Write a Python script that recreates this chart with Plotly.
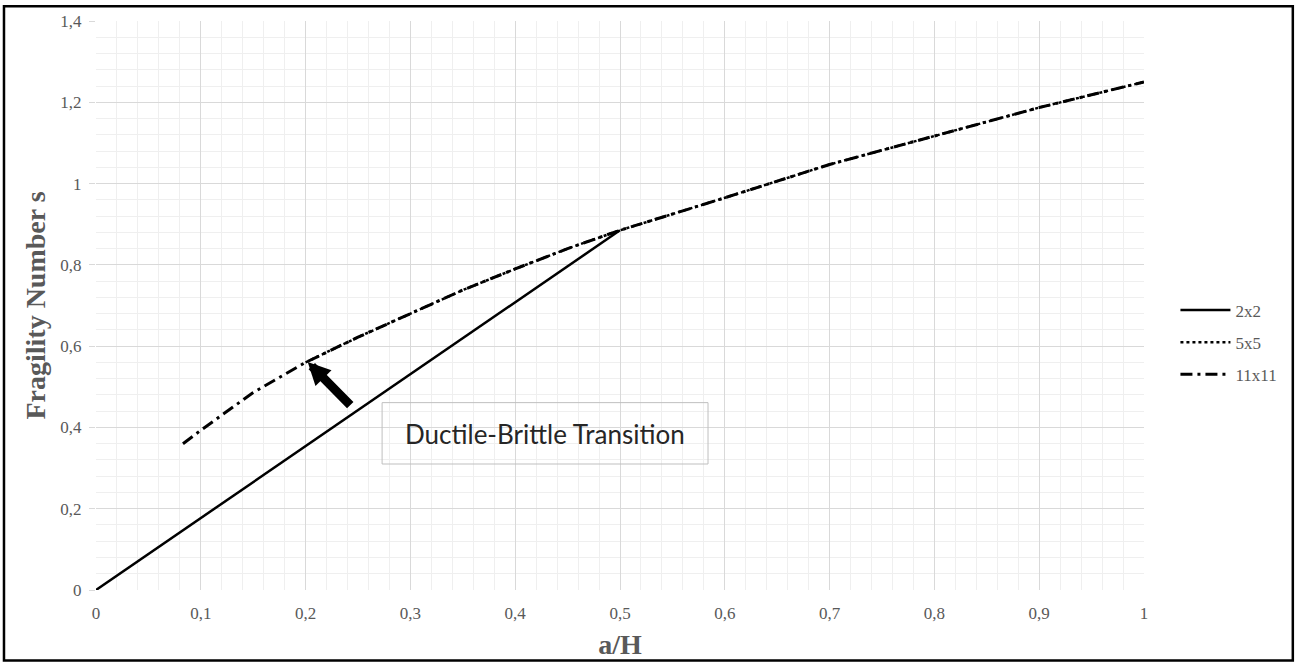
import plotly.graph_objects as go

# Data
x_2x2 = [0.0, 0.5]
y_2x2 = [0.0, 0.885]

x_5x5 = [0.2, 0.25, 0.3, 0.35, 0.4, 0.45, 0.5, 0.6, 0.7, 0.8, 0.9, 1.0]
y_5x5 = [0.56, 0.622, 0.68, 0.738, 0.79, 0.84, 0.885, 0.965, 1.047, 1.117, 1.187, 1.25]

x_11x11 = [0.083, 0.1, 0.15, 0.2, 0.25, 0.3, 0.35, 0.4, 0.45, 0.5, 0.6, 0.7, 0.8, 0.9, 1.0]
y_11x11 = [0.36, 0.393, 0.486, 0.56, 0.622, 0.68, 0.738, 0.79, 0.84, 0.885, 0.965, 1.047, 1.117, 1.187, 1.25]

series_names = ["2x2", "5x5", "11x11"]
x_title = "a/H"
y_title = "Fragility Number s"
note_text = "Ductile-Brittle Transition"

GRAY = "#595959"
SERIF = "Liberation Serif, Times New Roman, serif"

fig = go.Figure()
fig.add_trace(go.Scatter(x=x_2x2, y=y_2x2, mode="lines", name=series_names[0],
                         legendgroup="a", legendrank=1,
                         line=dict(color="black", width=2.5, dash="solid")))
fig.add_trace(go.Scatter(x=x_11x11, y=y_11x11, mode="lines", name=series_names[2],
                         legendgroup="c", legendrank=3,
                         line=dict(color="black", width=3, dash="12px,5px,3px,5px")))
fig.add_trace(go.Scatter(x=x_5x5, y=y_5x5, mode="lines", name=series_names[1],
                         legendgroup="b", legendrank=2,
                         line=dict(color="black", width=2.5, dash="dot")))

fig.update_layout(
    width=1297, height=667,
    margin=dict(l=96, r=153, t=19, b=74),
    paper_bgcolor="white", plot_bgcolor="white",
    separators=", ",
    showlegend=True,
    legend=dict(x=1.03, y=0.435, xanchor="left", yanchor="middle",
                font=dict(family=SERIF, size=17, color=GRAY),
                traceorder="grouped", itemwidth=50, tracegroupgap=7,
                bgcolor="rgba(0,0,0,0)"),
    font=dict(family=SERIF, color=GRAY),
)

fig.update_xaxes(range=[0, 1], dtick=0.1, tick0=0,
                 showgrid=True, gridcolor="#d9d9d9", gridwidth=1,
                 minor=dict(dtick=0.02, showgrid=True, gridcolor="#efefef", gridwidth=1),
                 zeroline=False, showline=False, ticks="", ticklabelstandoff=11,
                 tickfont=dict(family=SERIF, size=17, color=GRAY),
                 title=dict(text="<b>" + x_title + "</b>", standoff=12,
                            font=dict(family=SERIF, size=28, color=GRAY)))
fig.update_yaxes(range=[0, 1.4], dtick=0.2, tick0=0,
                 showgrid=True, gridcolor="#d9d9d9", gridwidth=1,
                 minor=dict(dtick=0.04, showgrid=True, gridcolor="#efefef", gridwidth=1),
                 zeroline=False, showline=False, ticks="outside", ticklen=6,
                 tickcolor="#d9d9d9", ticklabelstandoff=4,
                 tickfont=dict(family=SERIF, size=17, color=GRAY),
                 title=dict(text="<b>" + y_title + "</b>", standoff=6,
                            font=dict(family=SERIF, size=28, color=GRAY)))

# text box
fig.add_shape(type="rect", xref="x", yref="y", x0=0.273, x1=0.584, y0=0.31, y1=0.461,
              line=dict(color="#bfbfbf", width=1), fillcolor="rgba(0,0,0,0)", layer="above")
fig.add_annotation(x=0.4285, y=0.385, xref="x", yref="y", text=note_text, showarrow=False,
                   font=dict(family="Lato, Open Sans, sans-serif", size=26, color="#262626"))
# thick arrow
fig.add_annotation(x=0.202, y=0.561, ax=0.244, ay=0.451, xref="x", yref="y",
                   axref="x", ayref="y", text="", showarrow=True,
                   arrowhead=2, arrowsize=0.5, arrowwidth=9, arrowcolor="black")

# outer frame
fig.add_shape(type="rect", xref="paper", yref="paper",
              x0=-0.0878, x1=1.142, y0=-0.1237, y1=1.026,
              line=dict(color="black", width=2.5), fillcolor="rgba(0,0,0,0)")

fig.write_html("out.html", config={"displayModeBar": False},
               post_script="document.body.style.margin='0';document.body.style.overflow='hidden';")
